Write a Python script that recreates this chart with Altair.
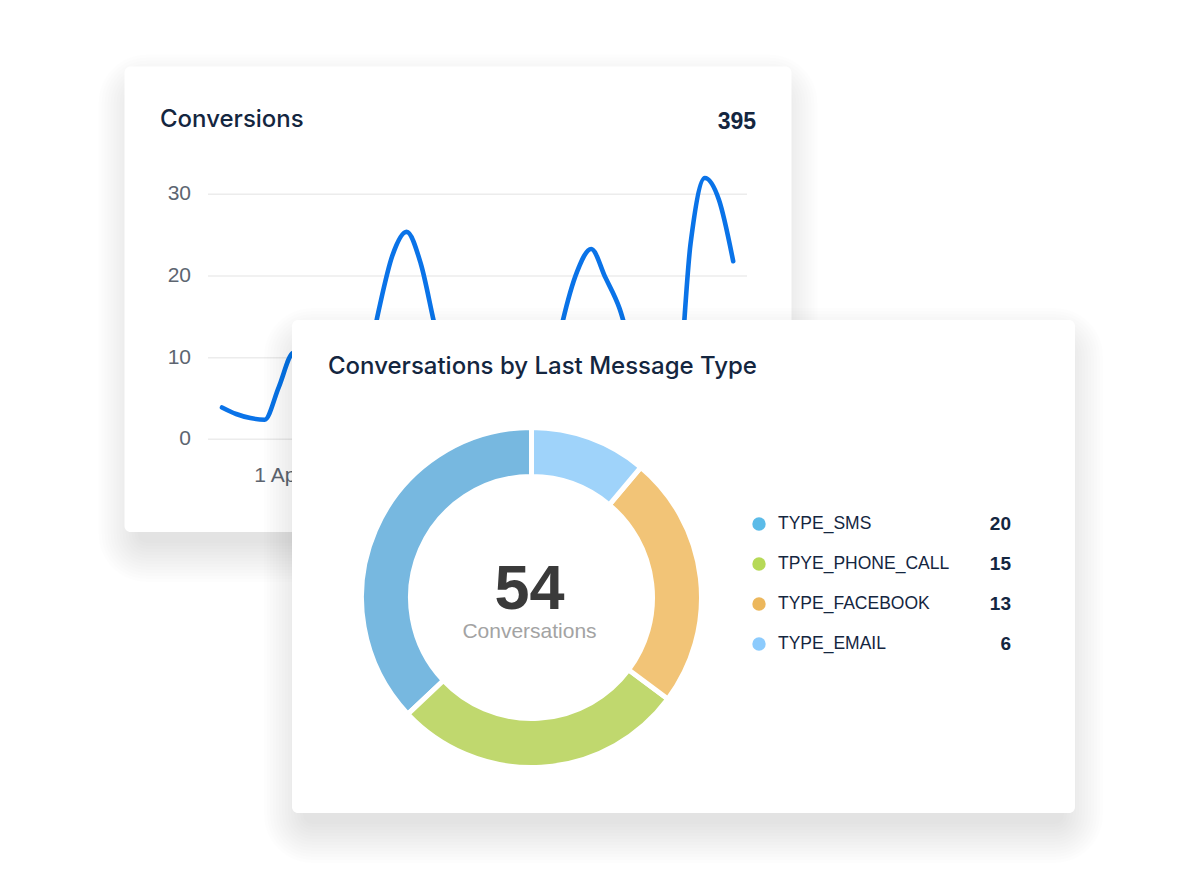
import altair as alt
import pandas as pd

# ---------------- data ----------------
days = list(range(37))  # 28 Mar .. 3 May, one point per day
conversions = [3.9, 3.1, 2.6, 2.4, 6.4, 10.6, 11, 8, 5, 4, 7, 15.5, 22.5, 25.4,
               21.5, 13.8, 7, 4, 3, 4, 5, 4, 3, 6, 14.5, 20.5, 23.3, 19.8, 16,
               10, 6, 4, 5, 24, 32, 29.3, 21.8]
y_ticks = [0, 10, 20, 30]
x_tick_days = [4, 11, 18, 25, 32]
x_tick_labels = ["1 Apr", "8 Apr", "15 Apr", "22 Apr", "29 Apr"]
total_conversions = [395]

types = ["TYPE_SMS", "TPYE_PHONE_CALL", "TYPE_FACEBOOK", "TYPE_EMAIL"]
counts = [20, 15, 13, 6]
clockwise_rank = [3, 2, 1, 0]
total_conversations = [54]

# ---------------- styles ----------------
arc_colors = ["#77b8e0", "#c0d86e", "#f2c477", "#9fd3fa"]
dot_colors = ["#5bbbe8", "#b6d957", "#ecb75c", "#8ccbfd"]
NAVY = "#14263f"
GRAY = "#5d6570"
LINE_BLUE = "#0a73e8"
SANS = "Liberation Sans"
TITLE_FONT = "Inter"

one = pd.DataFrame({"a": [0]})
line_df = pd.DataFrame({"day": days, "value": conversions})
ytick_df = pd.DataFrame({"tick": y_ticks})
xtick_df = pd.DataFrame({"day": x_tick_days, "label": x_tick_labels})
donut_df = pd.DataFrame({"type": types, "count": counts, "rank": clockwise_rank})

x_scale = alt.Scale(domain=[0, 36], range=[222, 733.2], nice=False, zero=False)
y_scale = alt.Scale(domain=[0, 30], range=[439.3, 194.3], nice=False, zero=False)
leg_scale = alt.Scale(type="point", domain=types, range=[524, 644], padding=0)


def shadow(x0, y0, x1, y1, n=14, step=3.0, a=0.009, side_in=14, top_in=30, bottom_out=8):
    out = []
    for i in range(1, n + 1):
        s = i * step
        out.append(
            alt.Chart(one).mark_rect(color="black", opacity=a, cornerRadius=6 + s).encode(
                x=alt.value(x0 - (s - side_in)), x2=alt.value(x1 + (s - side_in)),
                y=alt.value(y0 - (s - top_in)), y2=alt.value(y1 + s + bottom_out),
            )
        )
    return out


def card(x0, y0, x1, y1):
    return alt.Chart(one).mark_rect(color="white", cornerRadius=6).encode(
        x=alt.value(x0), x2=alt.value(x1), y=alt.value(y0), y2=alt.value(y1)
    )


def label(txt, x, y, size, color, font=SANS, weight="normal", align="left", baseline="alphabetic"):
    return alt.Chart(one).mark_text(
        text=txt, font=font, fontSize=size, fontWeight=weight, color=color,
        align=align, baseline=baseline,
    ).encode(x=alt.value(x), y=alt.value(y))


layers = []
# ---- card 1 : Conversions ----
layers += shadow(124.5, 66.5, 791.5, 532, a=0.007, side_in=16)
layers.append(card(124.5, 66.5, 791.5, 532))
layers.append(
    alt.Chart(ytick_df).mark_rule(color="#ececec", strokeWidth=1.5).encode(
        y=alt.Y("tick:Q", scale=y_scale, axis=None), x=alt.value(208), x2=alt.value(747)
    )
)
layers.append(
    alt.Chart(ytick_df).mark_text(font=SANS, fontSize=21, color=GRAY, align="right", baseline="middle").encode(
        y=alt.Y("tick:Q", scale=y_scale, axis=None), x=alt.value(191), text="tick:Q"
    )
)
layers.append(
    alt.Chart(line_df).mark_line(interpolate="monotone", strokeWidth=4.6, color=LINE_BLUE,
                                 strokeCap="round", strokeJoin="round").encode(
        x=alt.X("day:Q", scale=x_scale, axis=None),
        y=alt.Y("value:Q", scale=y_scale, axis=None),
    )
)
layers.append(
    alt.Chart(xtick_df).mark_text(font=SANS, fontSize=21, color=GRAY, align="center", baseline="middle").encode(
        x=alt.X("day:Q", scale=x_scale, axis=None), y=alt.value(476), text="label:N"
    )
)
layers.append(label("Conversions", 160, 127, 24, NAVY, font=TITLE_FONT, weight=500))
layers.append(
    alt.Chart(pd.DataFrame({"v": total_conversions})).mark_text(
        font=SANS, fontSize=23, fontWeight="bold", color=NAVY, align="right", baseline="alphabetic"
    ).encode(x=alt.value(756), y=alt.value(128.5), text="v:Q")
)

# ---- card 2 : Conversations by Last Message Type ----
layers += shadow(292, 320, 1075, 813)
layers.append(card(292, 320, 1075, 813))
layers.append(label("Conversations by Last Message Type", 328, 374, 24, NAVY, font=TITLE_FONT, weight=500))
layers.append(
    alt.Chart(donut_df).mark_arc(radius=170, radius2=121, stroke="white", strokeWidth=5).encode(
        theta=alt.Theta("count:Q", stack=True),
        order=alt.Order("rank:Q"),
        color=alt.Color("type:N", scale=alt.Scale(domain=types, range=arc_colors), legend=None),
        x=alt.value(531.5), y=alt.value(597.5),
    )
)
layers.append(
    alt.Chart(pd.DataFrame({"v": total_conversations})).mark_text(
        font=SANS, fontSize=63, fontWeight="bold", color="#3a3a3a", align="center", baseline="alphabetic"
    ).encode(x=alt.value(529.5), y=alt.value(608.5), text="v:Q")
)
layers.append(label("Conversations", 529.5, 638, 21, "#a3a3a3", align="center"))
layers.append(
    alt.Chart(donut_df).mark_point(filled=True, shape="circle", size=180, opacity=1).encode(
        y=alt.Y("type:N", scale=leg_scale, axis=None), x=alt.value(759),
        color=alt.Color("type:N", scale=alt.Scale(domain=types, range=dot_colors), legend=None),
    )
)
layers.append(
    alt.Chart(donut_df).mark_text(font=SANS, fontSize=17.5, color=NAVY, align="left", baseline="middle").encode(
        y=alt.Y("type:N", scale=leg_scale, axis=None), x=alt.value(778), text="type:N"
    )
)
layers.append(
    alt.Chart(donut_df).mark_text(font=SANS, fontSize=19, fontWeight="bold", color=NAVY,
                                  align="right", baseline="middle").encode(
        y=alt.Y("type:N", scale=leg_scale, axis=None), x=alt.value(1011), text="count:Q"
    )
)

chart = (
    alt.layer(*layers)
    .resolve_scale(x="independent", y="independent", color="independent", theta="independent")
    .properties(width=1200, height=880, padding=0, background="white",
                autosize=alt.AutoSizeParams(type="none"))
    .configure_view(stroke=None)
)

chart.save("out.html", embed_options={"renderer": "svg", "actions": False})
